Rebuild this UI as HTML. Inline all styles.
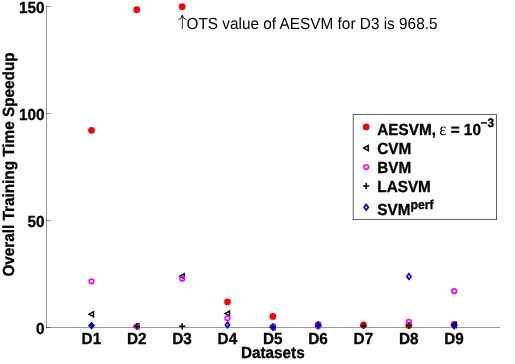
<!DOCTYPE html>
<html><head><meta charset="utf-8">
<style>
html,body{margin:0;padding:0;background:#fff;}
svg{display:block;will-change:transform;}
text{font-family:"Liberation Sans",sans-serif;fill:#000;text-rendering:geometricPrecision;}
.b{font-weight:bold;font-size:15.3px;stroke:#000;stroke-width:0.3px;stroke-linejoin:round;}
.r{font-size:15.36px;}
</style></head><body>
<svg width="515" height="364" viewBox="0 0 515 364">
<rect width="515" height="364" fill="#fff"/>
<g stroke="#000" stroke-width="0.4" fill="none">
<path d="M46.5 6 V328"/>
<path d="M46 327.5 H500"/>
<path d="M46 327.5 H51"/>
<path d="M46 6.5 H51"/>
<path d="M46 113.5 H51"/>
<path d="M46 220.5 H51"/>
<path d="M91.5 327.5 v-4.5"/>
<path d="M136.8 327.5 v-4.5"/>
<path d="M182.2 327.5 v-4.5"/>
<path d="M227.5 327.5 v-4.5"/>
<path d="M272.9 327.5 v-4.5"/>
<path d="M318.2 327.5 v-4.5"/>
<path d="M363.5 327.5 v-4.5"/>
<path d="M408.9 327.5 v-4.5"/>
<path d="M454.2 327.5 v-4.5"/>
</g>
<text class="b" text-anchor="end" transform="translate(44.6,12.8) scale(1,1.05)">150</text>
<text class="b" text-anchor="end" transform="translate(44.6,119.8) scale(1,1.05)">100</text>
<text class="b" text-anchor="end" transform="translate(44.6,226.8) scale(1,1.05)">50</text>
<text class="b" text-anchor="end" transform="translate(44.6,333.8) scale(1,1.05)">0</text>
<text class="b" text-anchor="middle" transform="translate(91.4,343.5) scale(1,1.05)">D1</text>
<text class="b" text-anchor="middle" transform="translate(136.7,343.5) scale(1,1.05)">D2</text>
<text class="b" text-anchor="middle" transform="translate(182.1,343.5) scale(1,1.05)">D3</text>
<text class="b" text-anchor="middle" transform="translate(227.4,343.5) scale(1,1.05)">D4</text>
<text class="b" text-anchor="middle" transform="translate(272.8,343.5) scale(1,1.05)">D5</text>
<text class="b" text-anchor="middle" transform="translate(318.1,343.5) scale(1,1.05)">D6</text>
<text class="b" text-anchor="middle" transform="translate(363.4,343.5) scale(1,1.05)">D7</text>
<text class="b" text-anchor="middle" transform="translate(408.8,343.5) scale(1,1.05)">D8</text>
<text class="b" text-anchor="middle" transform="translate(454.1,343.5) scale(1,1.05)">D9</text>
<text class="b" text-anchor="middle" transform="translate(272.8,357.6) scale(1,1.05)">Datasets</text>
<text class="b" text-anchor="middle" transform="translate(13.5,164.5) rotate(-90) scale(1,1.05)">Overall Training Time Speedup</text>
<path d="M182.3 28.8 V15.2 M178.3 19.8 Q181.6 18.6 182.3 15.2 Q183 18.6 186.3 19.8" fill="none" stroke="#000" stroke-width="0.85"/>
<text class="r" text-anchor="start" transform="translate(186.5,28.8) scale(1,1.05)">OTS value of AESVM for D3 is 968.5</text>
<g fill="#f00">
<circle cx="91.5" cy="130.3" r="3.35"/>
<circle cx="136.8" cy="9.7" r="3.35"/>
<circle cx="182.2" cy="6.7" r="3.35"/>
<circle cx="227.5" cy="301.9" r="3.35"/>
<circle cx="272.9" cy="316.4" r="3.35"/>
<circle cx="318.2" cy="324.5" r="3.35"/>
<circle cx="363.5" cy="324.9" r="3.35"/>
<circle cx="408.9" cy="325.4" r="3.35"/>
<circle cx="454.2" cy="324.3" r="3.35"/>
</g>
<g fill="none" stroke="#000" stroke-width="1.5" stroke-linejoin="miter">
<path d="M89.10 314.20 L93.50 311.70 V316.70 Z"/>
<path d="M134.40 326.20 L138.80 323.70 V328.70 Z"/>
<path d="M179.80 276.20 L184.20 273.70 V278.70 Z"/>
<path d="M225.10 313.60 L229.50 311.10 V316.10 Z"/>
<path d="M270.50 327.20 L274.90 324.70 V329.70 Z"/>
<path d="M451.80 325.00 L456.20 322.50 V327.50 Z"/>
</g>
<g fill="none" stroke="#f0f" stroke-width="1.7">
<circle cx="91.50" cy="281.30" r="2.25"/>
<circle cx="136.80" cy="326.30" r="2.25"/>
<circle cx="182.20" cy="278.70" r="2.25"/>
<circle cx="227.50" cy="318.30" r="2.25"/>
<circle cx="272.90" cy="326.50" r="2.25"/>
<circle cx="318.20" cy="326.30" r="2.25"/>
<circle cx="408.90" cy="321.80" r="2.25"/>
<circle cx="454.20" cy="291.20" r="2.25"/>
</g>
<g fill="none" stroke="#000" stroke-width="1.5">
<path d="M88.35 325.60 H94.65 M91.50 322.45 V328.75"/>
<path d="M133.65 326.50 H139.95 M136.80 323.35 V329.65"/>
<path d="M179.05 326.30 H185.35 M182.20 323.15 V329.45"/>
<path d="M269.75 327.00 H276.05 M272.90 323.85 V330.15"/>
<path d="M315.05 325.80 H321.35 M318.20 322.65 V328.95"/>
<path d="M360.35 325.80 H366.65 M363.50 322.65 V328.95"/>
<path d="M405.75 325.50 H412.05 M408.90 322.35 V328.65"/>
<path d="M451.05 325.50 H457.35 M454.20 322.35 V328.65"/>
</g>
<g fill="none" stroke="#00f" stroke-width="1.7">
<path d="M91.50 322.80 L93.60 325.60 L91.50 328.40 L89.40 325.60 Z"/>
<path d="M227.50 322.10 L229.60 324.90 L227.50 327.70 L225.40 324.90 Z"/>
<path d="M272.90 324.40 L275.00 327.20 L272.90 330.00 L270.80 327.20 Z"/>
<path d="M318.20 322.50 L320.30 325.30 L318.20 328.10 L316.10 325.30 Z"/>
<path d="M408.90 273.70 L411.00 276.50 L408.90 279.30 L406.80 276.50 Z"/>
<path d="M454.20 322.90 L456.30 325.70 L454.20 328.50 L452.10 325.70 Z"/>
</g>
<rect x="353.15" y="114.3" width="143.35" height="105.4" fill="#fff" stroke="#000" stroke-width="0.62"/>
<circle cx="366.2" cy="126.9" r="3.35" fill="#f00"/>
<g fill="none" stroke="#000" stroke-width="1.5"><path d="M363.80 148.10 L368.20 145.60 V150.60 Z"/></g>
<g fill="none" stroke="#f0f" stroke-width="1.7"><circle cx="366.20" cy="167.00" r="2.25"/></g>
<g fill="none" stroke="#000" stroke-width="1.5"><path d="M363.05 185.90 H369.35 M366.20 182.75 V189.05"/></g>
<g fill="none" stroke="#00f" stroke-width="1.7"><path d="M366.20 204.50 L368.30 207.30 L366.20 210.10 L364.10 207.30 Z"/></g>
<text class="b" text-anchor="start" transform="translate(377.3,135) scale(1,1.05)">AESVM, <tspan dx="-0.9" font-family="Liberation Serif" font-weight="normal" font-size="17" stroke="none">ε</tspan> = 10<tspan dx="-0.4" dy="-7.2" font-size="11.8">−3</tspan></text>
<text class="b" text-anchor="start" transform="translate(377.3,154) scale(1,1.05)">CVM</text>
<text class="b" text-anchor="start" transform="translate(377.3,173) scale(1,1.05)">BVM</text>
<text class="b" text-anchor="start" transform="translate(377.3,192) scale(1,1.05)">LASVM</text>
<text class="b" text-anchor="start" transform="translate(377.3,215) scale(1,1.05)">SVM<tspan dy="-5.8" font-size="12.3">perf</tspan></text>
</svg>
</body></html>
